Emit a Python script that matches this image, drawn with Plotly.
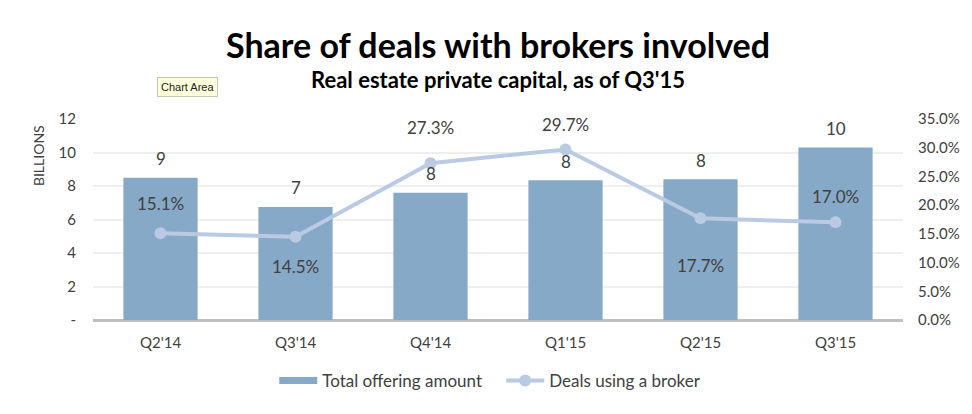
import plotly.graph_objects as go

categories = ["Q2'14", "Q3'14", "Q4'14", "Q1'15", "Q2'15", "Q3'15"]
offering_billions = [8.5, 6.75, 7.6, 8.35, 8.4, 10.3]
offering_labels = ["9", "7", "8", "8", "8", "10"]
broker_share = [0.151, 0.145, 0.273, 0.297, 0.177, 0.170]
broker_labels = ["15.1%", "14.5%", "27.3%", "29.7%", "17.7%", "17.0%"]
left_ticks = [0, 2, 4, 6, 8, 10, 12]
left_ticktext = ["-", "2", "4", "6", "8", "10", "12"]
right_ticks = [0, 0.05, 0.10, 0.15, 0.20, 0.25, 0.30, 0.35]

# label offsets (pixels) for the percentage labels
pct_shift = [30, -30, 36, 25, -47, 26]

FONT = "Lato"
TXT = "#404040"
BAR_C = "#87A9C8"
LINE_C = "#B9CAE2"

fig = go.Figure()
fig.add_trace(go.Bar(
    x=categories, y=offering_billions, name="Total offering amount",
    marker=dict(color=BAR_C, line=dict(width=0)), width=0.55,
    yaxis="y", showlegend=False,
))
# legend proxy drawn as a wide bar swatch
fig.add_trace(go.Scatter(
    x=[None], y=[None], name="Total offering amount", mode="lines",
    line=dict(color=BAR_C, width=7), yaxis="y",
))
fig.add_trace(go.Scatter(
    x=categories, y=broker_share, name="Deals using a broker",
    mode="lines+markers", line=dict(color=LINE_C, width=4),
    marker=dict(color=LINE_C, size=12), yaxis="y2",
))

annotations = []
for c, v, t in zip(categories, offering_billions, offering_labels):
    annotations.append(dict(x=c, y=v, xref="x", yref="y", text=t, showarrow=False,
                            yshift=19, font=dict(family=FONT, size=17, color=TXT)))
for c, v, t, s in zip(categories, broker_share, broker_labels, pct_shift):
    annotations.append(dict(x=c, y=v, xref="x", yref="y2", text=t, showarrow=False,
                            yshift=s, font=dict(family=FONT, size=17, color=TXT)))

# titles (paper coords relative to plot area: 0 at y=320px, 1 at y=119px)
annotations.append(dict(text="<b>Share of deals with brokers involved</b>", x=0.5, xref="paper",
                        y=1.373, yref="paper", showarrow=False, yanchor="middle",
                        font=dict(family=FONT, size=34, color="#000")))
annotations.append(dict(text="<b>Real estate private capital, as of Q3'15</b>", x=0.5, xref="paper",
                        y=1.199, yref="paper", showarrow=False, yanchor="middle",
                        font=dict(family=FONT, size=22, color="#000")))
annotations.append(dict(text="BILLIONS", x=-0.068, xref="paper", y=0.82, yref="paper",
                        textangle=-90, showarrow=False, xanchor="center", yanchor="middle",
                        font=dict(family=FONT, size=14, color=TXT)))
annotations.append(dict(text="Chart Area", x=0.117, xref="paper", y=1.159, yref="paper",
                        showarrow=False, bgcolor="#FFFFDD", bordercolor="#C8C8B0", borderwidth=1,
                        borderpad=3, xanchor="center", yanchor="middle",
                        font=dict(family="Liberation Sans", size=11, color="#222")))

fig.update_layout(
    width=972, height=414,
    margin=dict(l=93, r=69, t=119, b=94, autoexpand=False),
    paper_bgcolor="white", plot_bgcolor="white",
    font=dict(family=FONT, size=15, color=TXT),
    showlegend=True,
    legend=dict(orientation="h", x=0.504, xanchor="center", yref="container",
                y=1 - 381 / 414, yanchor="middle",
                font=dict(family=FONT, size=17, color=TXT), traceorder="normal",
                itemwidth=38, entrywidth=174, entrywidthmode="pixels"),
    xaxis=dict(showgrid=False, showline=False, ticks="", automargin=False,
               ticklabelstandoff=12),
    yaxis=dict(range=[0, 12], tickvals=left_ticks, ticktext=left_ticktext,
               showgrid=True, gridcolor="#EFEFEF", gridwidth=1.5, zeroline=True,
               zerolinecolor="#BFBFBF", zerolinewidth=2.5, ticks="", ticklabelstandoff=16,
               automargin=False),
    yaxis2=dict(range=[0, 0.35], tickvals=right_ticks, tickformat=".1%", overlaying="y",
                side="right", showgrid=False, zeroline=False, ticks="", ticklabelstandoff=14,
                automargin=False),
    annotations=annotations,
)

fig.write_html("out.html", config={"displayModeBar": False},
               post_script="document.body.style.margin='0';")
